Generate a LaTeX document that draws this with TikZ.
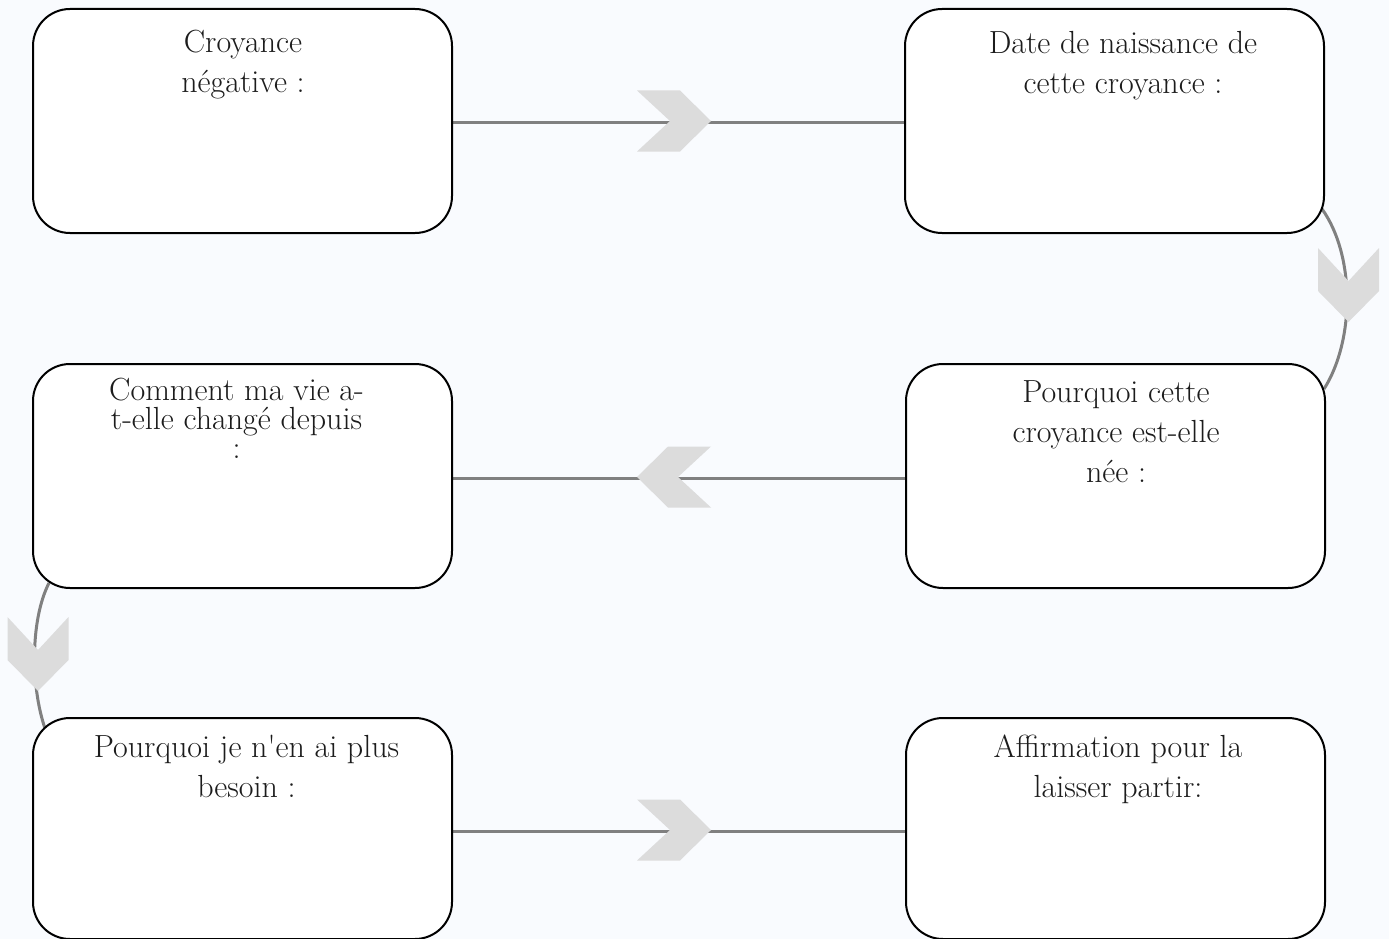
\documentclass[tikz,border=0pt]{standalone}
\usetikzlibrary{calc}
\pgfdeclarelayer{bg}
\pgfsetlayers{bg,main}
\definecolor{pagebg}{RGB}{249,251,254}
\definecolor{conngray}{RGB}{128,128,128}
\definecolor{chevgray}{RGB}{220,220,220}
\definecolor{txt}{RGB}{28,28,28}
\tikzset{
  box/.style={draw=black, line width=2pt, fill=white, rounded corners=37pt,
    minimum width=419pt, inner sep=0pt},
  conn/.style={draw=conngray, line width=3pt},
  lbl/.style={anchor=north, inner sep=0pt, align=center, text=txt,
    font=\fontsize{32}{40}\selectfont},
  chevron/.pic={\fill[chevgray] (-37,-30.5) -- (6,-30.5) -- (37,0) -- (6,30.5) -- (-37,30.5) -- (-4,0) -- cycle;}
}
\begin{document}
\begin{tikzpicture}[x=1pt,y=-1pt]
\useasboundingbox (0,0) rectangle (1389,939);
\begin{pgfonlayer}{bg}
  \fill[pagebg] (0,0) rectangle (1389,939);
\end{pgfonlayer}

% boxes
\node[box, minimum height=224pt] (b1) at (242.5,121) {};
\node[box, minimum height=224pt] (b2) at (1114.5,121) {};
\node[box, minimum height=224pt] (b3) at (242.5,476) {};
\node[box, minimum height=224pt] (b4) at (1115.5,476) {};
\node[box, minimum height=221pt] (b5) at (242.5,828.5) {};
\node[box, minimum height=221pt] (b6) at (1115.5,828.5) {};

% texts
\node[lbl] (t1) at (243,24) {\rule{0pt}{28pt}Croyance\\négative :};
\node[lbl] (t2) at (1123,25) {\rule{0pt}{28pt}Date de naissance de\\cette croyance :};
\node[lbl, font=\fontsize{32}{29}\selectfont] (t3) at (236.5,378) {\rule{0pt}{22pt}Comment ma vie a-\\t-elle changé depuis\\:};
\node[lbl] (t4) at (1116,374) {\rule{0pt}{28pt}Pourquoi cette\\croyance est-elle\\née :};
\node[lbl] (t5) at (246.5,729) {\rule{0pt}{28pt}Pourquoi je n\textquotesingle en ai plus\\besoin :};
\node[lbl] (t6) at (1118,729) {\rule{0pt}{28pt}Affirmation pour la\\laisser partir:};

% connectors (under boxes)
\coordinate (r1) at ($(b2.south east)+(-3,-25)$);
\coordinate (r2) at ($(b4.north east)+(-2,26)$);
\coordinate (l1) at ($(b3.south west)+(17,-6)$);
\coordinate (l2) at ($(b5.north west)+(15,17)$);
\begin{pgfonlayer}{bg}
  \draw[conn] ([yshift=-2pt]b1.east) -- ([yshift=-2pt]b2.west);
  \draw[conn] ([yshift=-2pt]b4.west) -- ([yshift=-2pt]b3.east);
  \draw[conn] ([yshift=-3pt]b5.east) -- ([yshift=-3pt]b6.west);
  \draw[conn] (r1) .. controls (1355,255) and (1355,340) .. (r2);
  \draw[conn] (l1) .. controls (30,620) and (30,690) .. (l2);
\end{pgfonlayer}

% chevrons
\pic at (674,121) {chevron};
\pic[rotate=180] at (674,477) {chevron};
\pic at (674,830) {chevron};
\pic[rotate=-90] at (1348.5,285) {chevron};
\pic[rotate=-90] at (38,654) {chevron};
\end{tikzpicture}
\end{document}
